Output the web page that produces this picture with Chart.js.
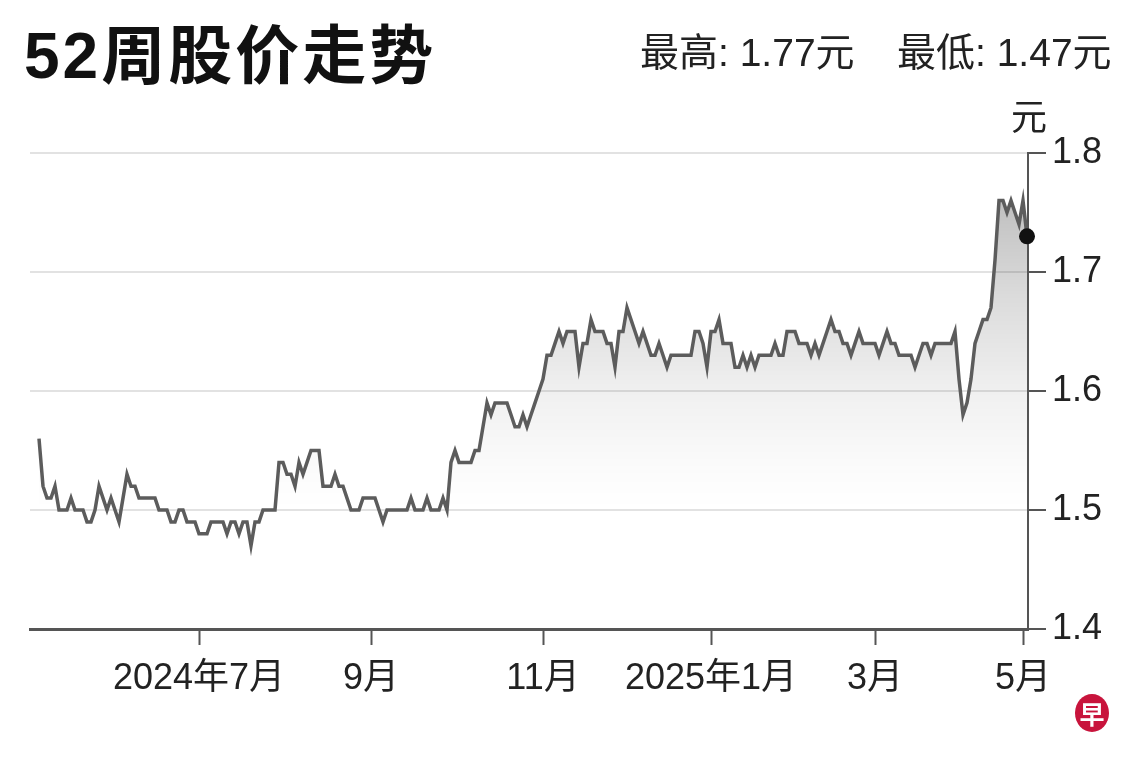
<!DOCTYPE html>
<html>
<head>
<meta charset="utf-8">
<script src="https://cdn.jsdelivr.net/npm/chart.js@4.4.1/dist/chart.umd.min.js"></script>
<style>
  html, body { margin: 0; padding: 0; background: #fff; }
  #wrap { position: relative; width: 1140px; height: 761px; overflow: hidden; }
  #myChart { position: absolute; left: 0; top: 0; }
  .txt { position: absolute; white-space: nowrap; color: #222; font-family: "Liberation Sans", "Noto Sans CJK SC", sans-serif; }
  #title { left: 24px; top: 4px; font-size: 64px; font-weight: bold; color: #111; letter-spacing: 3px; }
  #hi { left: 640px; top: 21px; font-size: 39px; }
  #lo { left: 897px; top: 21px; font-size: 39px; }
  #unit { left: 1011px; top: 88px; font-size: 36px; }
  #logo { position: absolute; left: 1075px; top: 694px; width: 34px; height: 38px; border-radius: 50%;
          background: #c8143c; color: #fff; font: bold 25px "Noto Sans CJK SC", sans-serif;
          text-align: center; line-height: 38px; }
</style>
</head>
<body>
<div id="wrap">
  <canvas id="myChart" width="1140" height="761"></canvas>
  <div class="txt" id="title">52周股价走势</div>
  <div class="txt" id="hi">最高: 1.77元</div>
  <div class="txt" id="lo">最低: 1.47元</div>
  <div class="txt" id="unit">元</div>
  <div id="logo">早</div>
</div>
<script>
// daily closing price (trading-day index 0 = mid May 2024)
const prices = [
  1.56, 1.52, 1.51, 1.51, 1.52, 1.50, 1.50, 1.50, 1.51, 1.50,
  1.50, 1.50, 1.49, 1.49, 1.50, 1.52, 1.51, 1.50, 1.51, 1.50,
  1.49, 1.51, 1.53, 1.52, 1.52, 1.51, 1.51, 1.51, 1.51, 1.51,
  1.50, 1.50, 1.50, 1.49, 1.49, 1.50, 1.50, 1.49, 1.49, 1.49,
  1.48, 1.48, 1.48, 1.49, 1.49, 1.49, 1.49, 1.48, 1.49, 1.49,
  1.48, 1.49, 1.49, 1.47, 1.49, 1.49, 1.50, 1.50, 1.50, 1.50,
  1.54, 1.54, 1.53, 1.53, 1.52, 1.54, 1.53, 1.54, 1.55, 1.55,
  1.55, 1.52, 1.52, 1.52, 1.53, 1.52, 1.52, 1.51, 1.50, 1.50,
  1.50, 1.51, 1.51, 1.51, 1.51, 1.50, 1.49, 1.50, 1.50, 1.50,
  1.50, 1.50, 1.50, 1.51, 1.50, 1.50, 1.50, 1.51, 1.50, 1.50,
  1.50, 1.51, 1.50, 1.54, 1.55, 1.54, 1.54, 1.54, 1.54, 1.55,
  1.55, 1.57, 1.59, 1.58, 1.59, 1.59, 1.59, 1.59, 1.58, 1.57,
  1.57, 1.58, 1.57, 1.58, 1.59, 1.60, 1.61, 1.63, 1.63, 1.64,
  1.65, 1.64, 1.65, 1.65, 1.65, 1.62, 1.64, 1.64, 1.66, 1.65,
  1.65, 1.65, 1.64, 1.64, 1.62, 1.65, 1.65, 1.67, 1.66, 1.65,
  1.64, 1.65, 1.64, 1.63, 1.63, 1.64, 1.63, 1.62, 1.63, 1.63,
  1.63, 1.63, 1.63, 1.63, 1.65, 1.65, 1.64, 1.62, 1.65, 1.65,
  1.66, 1.64, 1.64, 1.64, 1.62, 1.62, 1.63, 1.62, 1.63, 1.62,
  1.63, 1.63, 1.63, 1.63, 1.64, 1.63, 1.63, 1.65, 1.65, 1.65,
  1.64, 1.64, 1.64, 1.63, 1.64, 1.63, 1.64, 1.65, 1.66, 1.65,
  1.65, 1.64, 1.64, 1.63, 1.64, 1.65, 1.64, 1.64, 1.64, 1.64,
  1.63, 1.64, 1.65, 1.64, 1.64, 1.63, 1.63, 1.63, 1.63, 1.62,
  1.63, 1.64, 1.64, 1.63, 1.64, 1.64, 1.64, 1.64, 1.64, 1.65,
  1.61, 1.58, 1.59, 1.61, 1.64, 1.65, 1.66, 1.66, 1.67, 1.71,
  1.76, 1.76, 1.75, 1.76, 1.75, 1.74, 1.76, 1.73
];

// month starts (trading-day index) and their labels
const tickIndex = [40, 83, 126, 168, 209, 246];
const tickLabels = ["2024年7月", "9月", "11月", "2025年1月", "3月", "5月"];

// price axis
const yMin = 1.4;
const yMax = 1.8;
const yStep = 0.1;

const canva = document.getElementById("myChart");
const lastIdx = prices.length - 1;
const tickFont = { family: '"Liberation Sans", "Noto Sans CJK SC", sans-serif', size: 36 };

function fillGradient(ctx) {
  const chart = ctx.chart;
  const area = chart.chartArea;
  if (!area) return "rgba(0,0,0,0.1)";
  const g = chart.ctx.createLinearGradient(0, area.top, 0, area.bottom);
  g.addColorStop(0, "rgba(0,0,0,0.30)");
  g.addColorStop(0.3, "rgba(0,0,0,0.14)");
  g.addColorStop(0.5, "rgba(0,0,0,0.06)");
  g.addColorStop(0.68, "rgba(0,0,0,0.012)");
  g.addColorStop(0.75, "rgba(0,0,0,0)");
  g.addColorStop(1, "rgba(0,0,0,0)");
  return g;
}

var myChart = new Chart(canva.getContext("2d"), {
  type: "line",
  data: {
    datasets: [
      {
        data: prices.map((v, i) => ({ x: i, y: v })),
        borderColor: "#5c5c5c",
        borderWidth: 3.5,
        tension: 0,
        fill: "start",
        backgroundColor: fillGradient,
        pointRadius: (c) => (c.dataIndex === lastIdx ? 8 : 0),
        pointBackgroundColor: "#111",
        pointBorderWidth: 0,
        clip: false,
      },
    ],
  },
  options: {
    responsive: false,
    animation: false,
    layout: { padding: { left: 30, top: 153, right: 0, bottom: 0 } },
    plugins: { legend: { display: false }, tooltip: { enabled: false } },
    scales: {
      x: {
        type: "linear",
        min: -2.25,
        max: 247.25,
        afterFit: (s) => { s.height = 132; },
        afterBuildTicks: (s) => { s.ticks = tickIndex.map((v) => ({ value: v })); },
        grid: { drawOnChartArea: false, tickLength: 16, tickColor: "#555", tickWidth: 2 },
        border: { color: "#555", width: 3 },
        ticks: {
          autoSkip: false,
          maxRotation: 0,
          padding: 12,
          color: "#222",
          font: tickFont,
          callback: (v, i) => tickLabels[i],
        },
      },
      y: {
        position: "right",
        min: yMin,
        max: yMax,
        afterFit: (s) => { s.width = 112; },
        grid: {
          color: (c) => (c.tick && Math.abs(c.tick.value - yMin) < 1e-6 ? "rgba(0,0,0,0)" : "#e2e2e2"),
          lineWidth: 2,
          tickLength: 18,
          tickColor: "#555",
          tickWidth: 2,
        },
        border: { color: "#555", width: 2 },
        ticks: {
          stepSize: yStep,
          padding: 6,
          color: "#222",
          font: tickFont,
          callback: (v) => v.toFixed(1),
        },
      },
    },
  },
});
</script>
</body>
</html>
